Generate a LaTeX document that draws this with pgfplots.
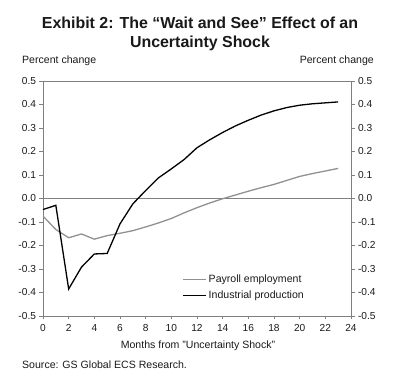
\documentclass[border=0pt]{standalone}
\usepackage{pgfplots}
\pgfplotsset{compat=1.18}
\usepackage{fontspec}
\setmainfont{Liberation Sans}
\definecolor{axgray}{RGB}{128,128,128}
\definecolor{payroll}{RGB}{145,145,145}
\definecolor{txt}{RGB}{25,25,25}
\begin{document}
\begin{tikzpicture}
\useasboundingbox (-43bp,-74bp) rectangle (357bp,316bp);
\pgfplotsset{
  common/.style={
    width=308bp, height=235bp, scale only axis,
    at={(0,0)}, anchor=south west,
    xmin=0, xmax=24, ymin=-0.5, ymax=0.5,
    axis line style={axgray, line width=0.9bp},
    tick style={axgray, line width=0.8bp},
    tick align=outside, major tick length=3.5bp,
    ytick={-0.5,-0.4,...,0.5},
    yticklabel style={/pgf/number format/.cd, fixed, fixed zerofill, precision=1, assume math mode=true},
    ticklabel style={font=\fontsize{10.2}{12}\selectfont, text=txt},
  }
}
\begin{axis}[common,
  xtick={0,2,...,24},
  xticklabel style={/pgf/number format/assume math mode=true, yshift=-1bp},
  xtick pos=bottom, ytick pos=left,
  legend style={at={(axis cs:10.85,-0.315)}, anchor=north west, draw=none, fill=none,
    font=\fontsize{10.6}{12}\selectfont, text=txt, inner sep=0pt, row sep=3bp,
    cells={anchor=west}},
  legend image code/.code={\draw[#1] (0bp,0bp) -- (23bp,0bp);},
]
\draw[axgray, line width=0.9bp] (axis cs:0,0) -- (axis cs:24,0);
\addplot[payroll, line width=1.3bp] coordinates {
(0,-0.075) (1,-0.132) (2,-0.167) (3,-0.151) (4,-0.173) (5,-0.158) (6,-0.148)
(7,-0.137) (8,-0.121) (9,-0.104) (10,-0.085) (11,-0.061) (12,-0.039) (13,-0.019)
(14,-0.001) (15,0.015) (16,0.031) (17,0.046) (18,0.060) (19,0.077) (20,0.094)
(21,0.106) (22,0.117) (23,0.128)};
\addlegendentry{Payroll employment}
\addplot[black, line width=1.3bp] coordinates {
(0,-0.047) (1,-0.029) (2,-0.385) (3,-0.292) (4,-0.236) (5,-0.234) (6,-0.108)
(7,-0.023) (8,0.034) (9,0.088) (10,0.126) (11,0.166) (12,0.216) (13,0.25)
(14,0.281) (15,0.309) (16,0.333) (17,0.355) (18,0.373) (19,0.387) (20,0.397)
(21,0.403) (22,0.407) (23,0.411)};
\addlegendentry{Industrial production}
\end{axis}
\begin{axis}[common,
  axis y line*=right, axis x line=none,
  ytick pos=right,
]
\end{axis}
\node[font=\bfseries\fontsize{16}{19}\selectfont, text=txt, align=center, anchor=center] at (157bp,282bp)
  {Exhibit 2: The “Wait and See” Effect of an\\Uncertainty Shock};
\node[font=\fontsize{10.6}{12}\selectfont, text=txt, anchor=west, inner sep=0pt] at (-21bp,255bp) {Percent change};
\node[font=\fontsize{10.6}{12}\selectfont, text=txt, anchor=east, inner sep=0pt] at (331bp,255bp) {Percent change};
\node[font=\fontsize{10.6}{12}\selectfont, text=txt, anchor=center, inner sep=0pt] at (155bp,-30bp) {Months from "Uncertainty Shock"};
\node[font=\fontsize{10.6}{12}\selectfont, text=txt, anchor=west, inner sep=0pt] at (-21bp,-49bp) {Source: GS Global ECS Research.};
\end{tikzpicture}
\end{document}
